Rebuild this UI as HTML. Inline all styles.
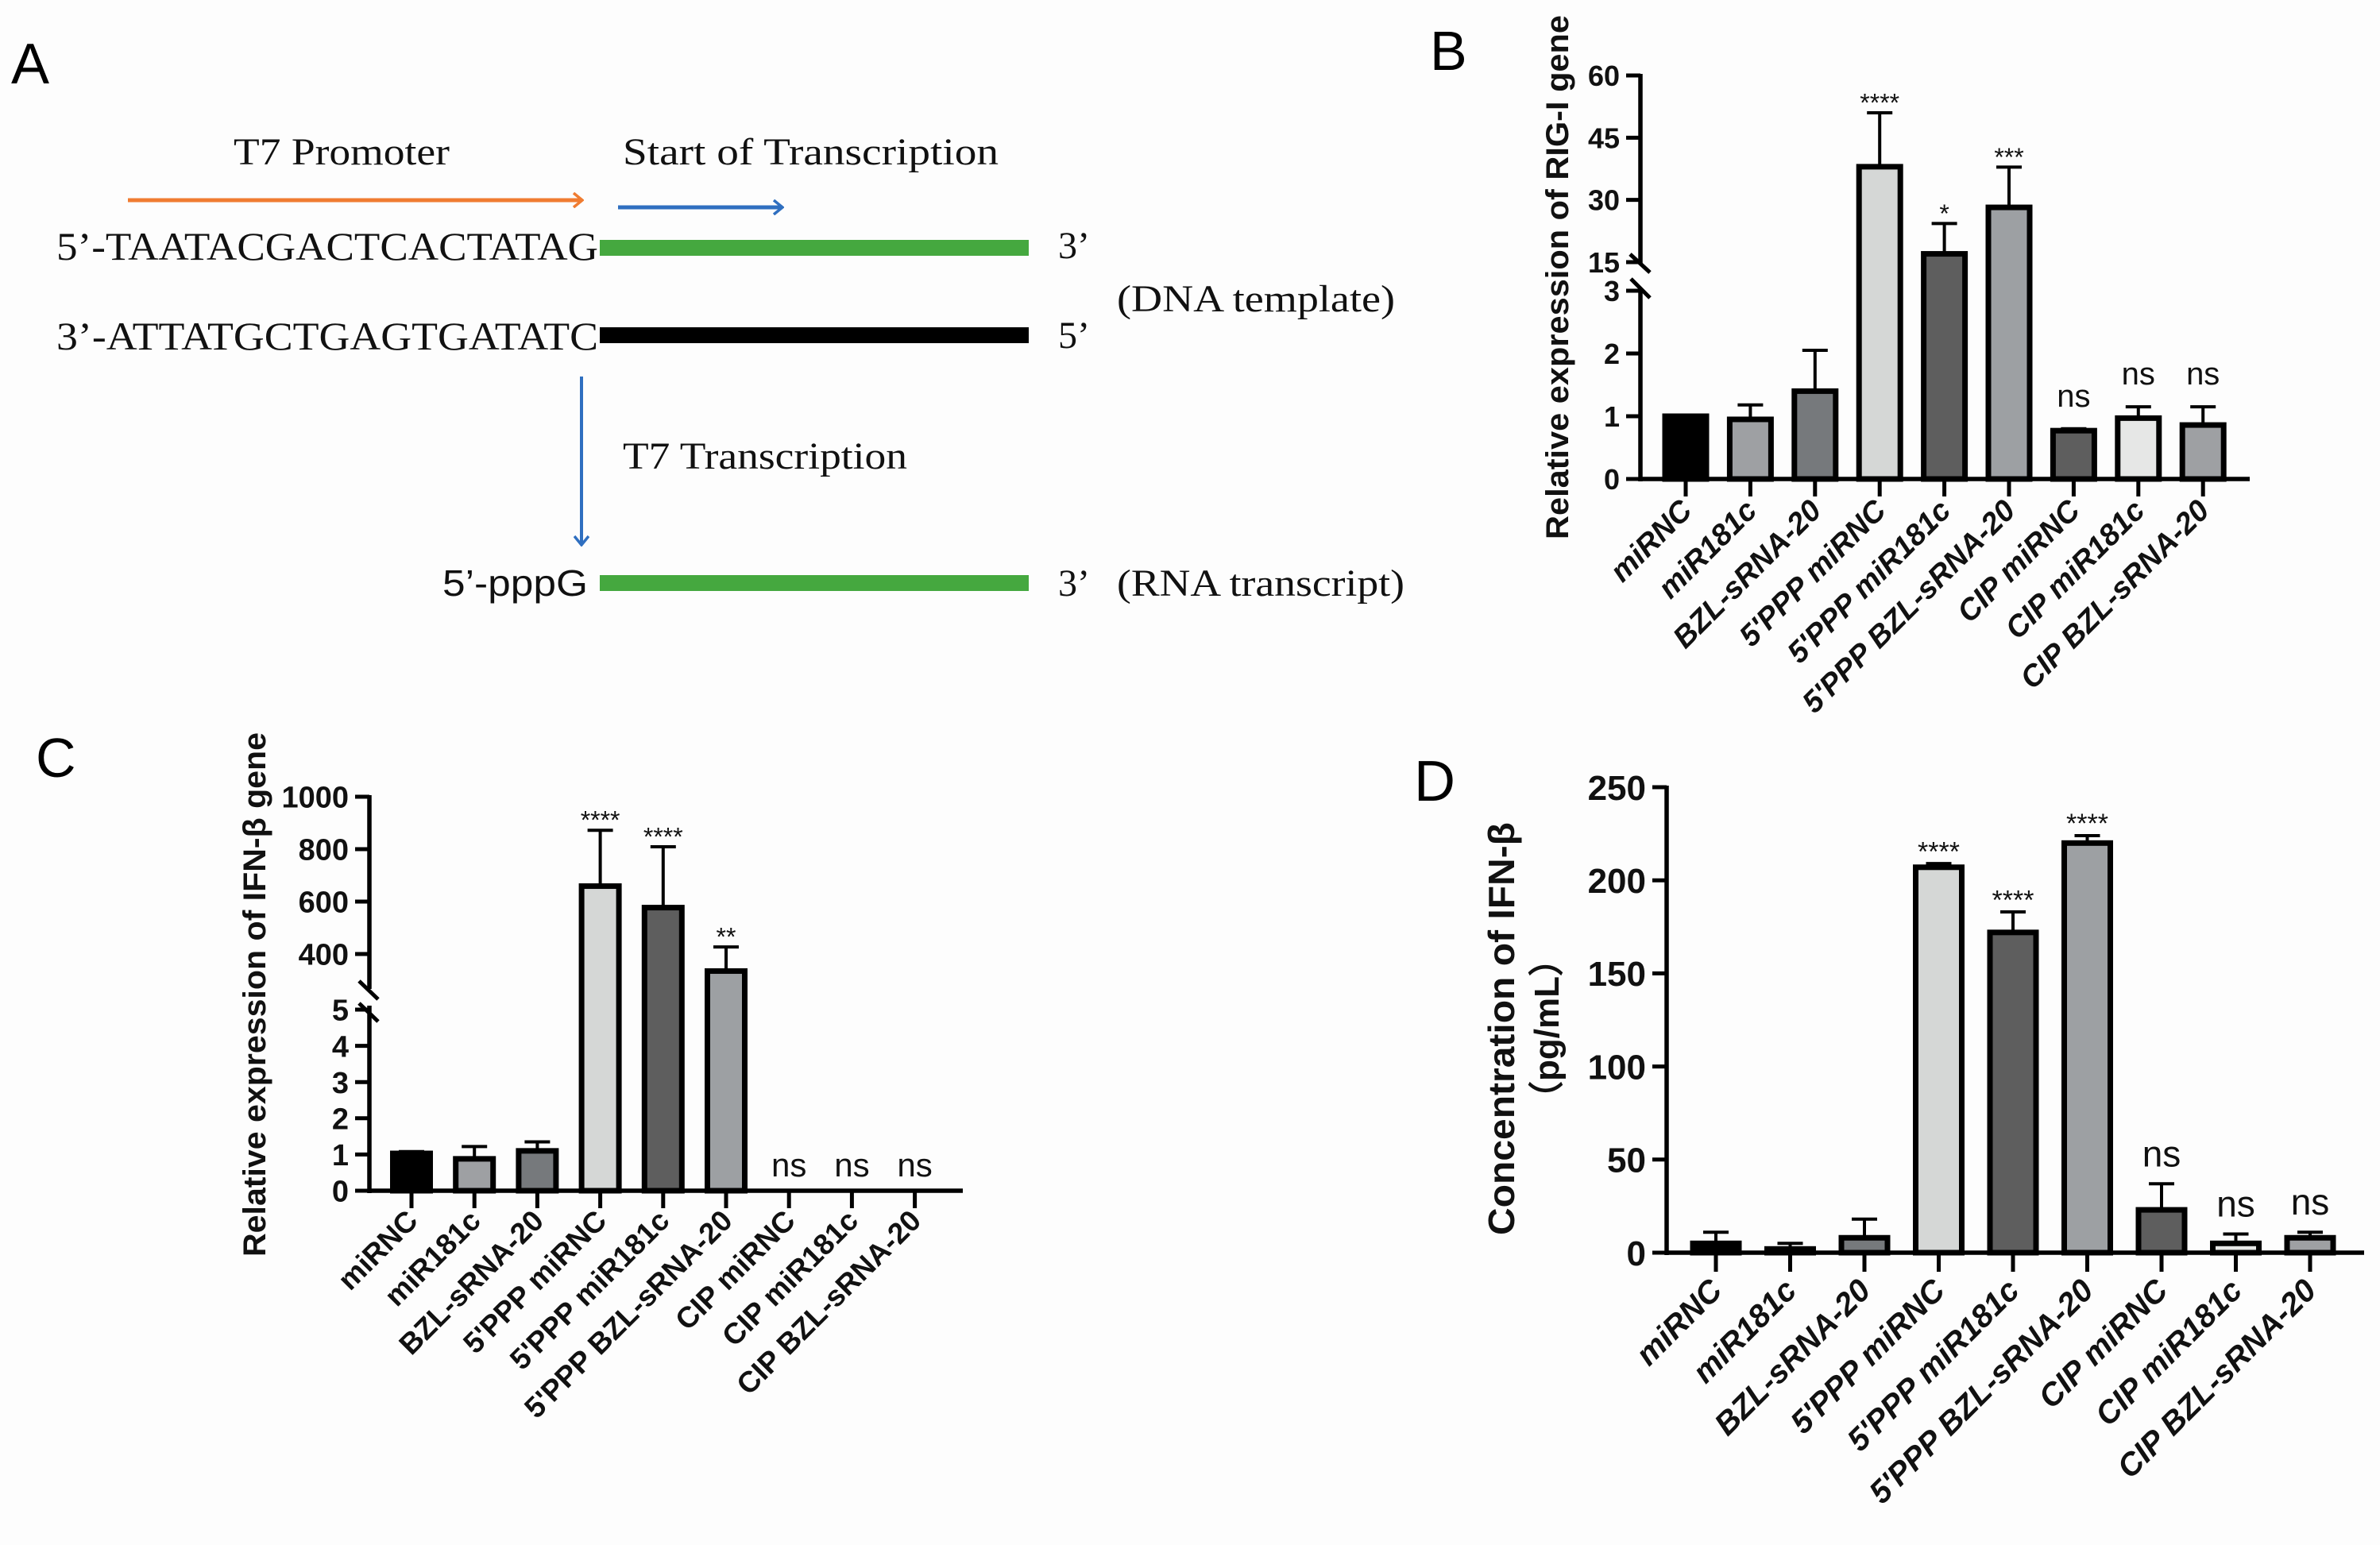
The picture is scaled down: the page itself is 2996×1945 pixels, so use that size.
<!DOCTYPE html>
<html><head><meta charset="utf-8"><style>
html,body{margin:0;padding:0;background:#fff;}
svg{display:block;}
.serif{font-family:"Liberation Serif",serif;fill:#111;}
.sans{font-family:"Liberation Sans",sans-serif;}
.tick{font-family:"Liberation Sans",sans-serif;font-weight:bold;fill:#111;}
</style></head><body>
<svg id="fig" width="2996" height="1945" viewBox="0 0 2996 1945" xmlns="http://www.w3.org/2000/svg">
<rect width="2996" height="1945" fill="#fdfdfd"/>
<defs>
<marker id="arrO" markerWidth="14" markerHeight="20" refX="12" refY="10" orient="auto" markerUnits="userSpaceOnUse"><path d="M1,1 L12,10 L1,19" fill="none" stroke="#f07c31" stroke-width="3.5"/></marker>
<marker id="arrB" markerWidth="14" markerHeight="20" refX="12" refY="10" orient="auto" markerUnits="userSpaceOnUse"><path d="M1,1 L12,10 L1,19" fill="none" stroke="#2f6fc0" stroke-width="3.5"/></marker>
</defs>
<g>
<text x="14" y="105" class="sans" font-size="72" fill="#000">A</text>
<text x="294" y="207" class="serif" font-size="48" textLength="272" lengthAdjust="spacingAndGlyphs">T7 Promoter</text>
<text x="784" y="207" class="serif" font-size="48" textLength="473" lengthAdjust="spacingAndGlyphs">Start of  Transcription</text>
<line x1="161" y1="252" x2="733" y2="252" stroke="#f07c31" stroke-width="5" marker-end="url(#arrO)"/>
<line x1="778" y1="261" x2="985" y2="261" stroke="#2f6fc0" stroke-width="5" marker-end="url(#arrB)"/>
<text x="71" y="327" class="serif" font-size="50" textLength="682" lengthAdjust="spacingAndGlyphs">5’-TAATACGACTCACTATAG</text>
<rect x="755" y="302" width="540" height="20" fill="#45a83f"/>
<text x="1332" y="325" class="serif" font-size="48">3’</text>
<text x="71" y="440" class="serif" font-size="50" textLength="682" lengthAdjust="spacingAndGlyphs">3’-ATTATGCTGAGTGATATC</text>
<rect x="755" y="412" width="540" height="20" fill="#000"/>
<text x="1332" y="438" class="serif" font-size="48">5’</text>
<text x="1406" y="392" class="serif" font-size="48" textLength="350" lengthAdjust="spacingAndGlyphs">(DNA template)</text>
<line x1="732" y1="474" x2="732" y2="686" stroke="#2f6fc0" stroke-width="4" marker-end="url(#arrB)"/>
<text x="784" y="590" class="serif" font-size="48" textLength="358" lengthAdjust="spacingAndGlyphs">T7 Transcription</text>
<text x="557" y="750" class="sans" font-size="46" fill="#111" textLength="183" lengthAdjust="spacingAndGlyphs">5’-pppG</text>
<rect x="755" y="724" width="540" height="20" fill="#45a83f"/>
<text x="1332" y="750" class="serif" font-size="48">3’</text>
<text x="1406" y="750" class="serif" font-size="48" textLength="362" lengthAdjust="spacingAndGlyphs">(RNA transcript)</text>
</g>
<text x="1800" y="88" class="sans" font-size="70" fill="#000">B</text>
<text x="45" y="978" class="sans" font-size="70" fill="#000">C</text>
<text x="1780" y="1008" class="sans" font-size="72" fill="#000">D</text>
<g id="chartB"></g>
<g id="chartC"></g>
<g id="chartD"></g>
</svg>
<script>
const categories = ["miRNC","miR181c","BZL-sRNA-20","5'PPP miRNC","5'PPP miR181c","5'PPP BZL-sRNA-20","CIP miRNC","CIP miR181c","CIP BZL-sRNA-20"];
const colors = ["#000000","#9ea0a3","#76797c","#d5d7d6","#5e5e5e","#9da0a3","#5e5e5e","#e6e7e6","#9ea0a3"];
const colorsC = ["#000000","#9ea0a3","#76797c","#d5d7d6","#5e5e5e","#9da0a3","#5e5e5e","#e6e7e6","#9ea0a3"];
const colorsD = ["#000000","#9ea0a3","#76797c","#d5d7d6","#5e5e5e","#9da0a3","#5e5e5e","#e6e7e6","#9ea0a3"];
const valuesB = [1, 0.95, 1.4, 38, 17, 28.2, 0.77, 0.97, 0.86];
const errorsB = [1, 1.18, 2.05, 51, 24.3, 37.9, 0.8, 1.15, 1.15];
const annotB = ["", "", "", "****", "*", "***", "ns", "ns", "ns"];
const ticksBLow = [0, 1, 2, 3];
const ticksBHigh = [15, 30, 45, 60];
const valuesC = [1.03, 0.88, 1.1, 659, 577, 335, 0, 0, 0];
const errorsC = [1.08, 1.22, 1.35, 872, 809, 427, 0, 0, 0];
const annotC = ["", "", "", "****", "****", "**", "ns", "ns", "ns"];
const ticksCLow = [0, 1, 2, 3, 4, 5];
const ticksCHigh = [400, 600, 800, 1000];
const valuesD = [5, 2, 8, 207, 172, 220, 23, 5, 8];
const errorsD = [11, 5, 18, 209, 183, 224, 37, 10, 11];
const annotD = ["", "", "", "****", "****", "****", "ns", "ns", "ns"];
const ticksD = [0, 50, 100, 150, 200, 250];

const NS = "http://www.w3.org/2000/svg";
function mk(parent, tag, attrs, text){
  const e = document.createElementNS(NS, tag);
  for (const k in attrs) e.setAttribute(k, attrs[k]);
  if (text !== undefined) e.textContent = text;
  parent.appendChild(e);
  return e;
}

function drawChart(cfg){
  const g = document.getElementById(cfg.id);
  const y = cfg.yScale;
  const x = i => cfg.x0 + i * cfg.step;
  cfg.values.forEach((v, i) => {
    if (v <= 0) return;
    const top = y(v), base = cfg.baseY;
    const r = mk(g, "rect", {x: x(i) - cfg.bw/2, y: top, width: cfg.bw, height: base - top, fill: cfg.colors[i], stroke: "#000", "stroke-width": 7});
    
    
    const ey = y(cfg.errors[i]);
    if (cfg.errors[i] > v) {
      const l = mk(g, "path", {d: `M${x(i)},${top} V${ey} M${x(i)-16},${ey} H${x(i)+16}`, stroke: "#000", "stroke-width": 4, fill: "none"});
      
      
    }
  });
  cfg.annot.forEach((a, i) => {
    if (!a) return;
    let yy;
    if (a === "ns") yy = cfg.nsFixed ? cfg.nsFixed : y(Math.max(cfg.errors[i], cfg.values[i])) - cfg.nsOff;
    else yy = y(cfg.errors[i]) - cfg.starOff;
    const t = mk(g, "text", {x: x(i), y: a === "ns" ? yy : yy + cfg.starSize*0.45, "text-anchor": "middle", "font-family": "Liberation Sans, sans-serif", "font-size": a === "ns" ? cfg.nsSize : cfg.starSize, fill: "#111"}, a);
    
    
  });
  const ax = mk(g, "line", {x1: cfg.axisX, y1: cfg.baseY, x2: cfg.axisEnd, y2: cfg.baseY, stroke: "#000", "stroke-width": 5.5});
  
  
  categories.forEach((c, i) => {
    const tk = mk(g, "line", {x1: x(i), y1: cfg.baseY, x2: x(i), y2: cfg.baseY + cfg.tickLen, stroke: "#000", "stroke-width": 5});
    
    
    const lx = x(i) + cfg.labDx, ly = cfg.baseY + cfg.labDy;
    const t = mk(g, "text", {x: lx, y: ly, "text-anchor": "end", class: "tick", "font-size": cfg.labSize, "font-style": cfg.italic ? "italic" : "normal", transform: `rotate(-45 ${lx} ${ly})`}, c);
    
    
  });
  cfg.ySegs.forEach(s => {
    const l = mk(g, "line", {x1: cfg.axisX, y1: s[0], x2: cfg.axisX, y2: s[1], stroke: "#000", "stroke-width": 5.5});
    
    
  });
  (cfg.slashes || []).forEach(s => {
    const l = mk(g, "line", {x1: s[0], y1: s[1], x2: s[2], y2: s[3], stroke: "#000", "stroke-width": 5});
    
    
  });
  cfg.ticks.forEach(v => {
    const yy = y(v);
    const l = mk(g, "line", {x1: cfg.axisX - 18, y1: yy, x2: cfg.axisX, y2: yy, stroke: "#000", "stroke-width": 5});
    
    
    const t = mk(g, "text", {x: cfg.axisX - 26, y: yy + cfg.tickSize*0.36, "text-anchor": "end", class: "tick", "font-size": cfg.tickSize}, String(v));
    
    
  });
  cfg.titles.forEach(tt => {
    const t = mk(g, "text", {x: tt.x, y: tt.y, "text-anchor": "middle", class: "tick", "font-size": tt.size, transform: `rotate(-90 ${tt.x} ${tt.y})`}, tt.text);
    if (tt.len) { t.setAttribute("textLength", tt.len); t.setAttribute("lengthAdjust", "spacingAndGlyphs"); }
    
    
  });
}

function yB(v){ return v <= 3 ? 603 - v * 79 : 330 - (v - 15) * (235/45); }
drawChart({id:"chartB", values: valuesB, errors: errorsB, annot: annotB, colors: colors, yScale: yB,
  x0: 2122, step: 81.4, bw: 52, baseY: 603, axisX: 2065, axisEnd: 2832, tickLen: 22,
  labDx: 10, labDy: 42, labSize: 38, italic: true,
  ticks: ticksBLow.concat(ticksBHigh), tickSize: 36,
  ySegs: [[93, 332], [364, 606]], slashes: [[2052,320,2077,343],[2053,351,2077,375]],
  starOff: 16, starSize: 32, nsOff: 28, nsSize: 40,
  titles: [{x: 1974, y: 349, text: "Relative expression of RIG-I gene", size: 40, len: 660}]});

function yC(v){ return v <= 5 ? 1499 - v * 45.6 : 1201 - (v - 400) * (198/600); }
drawChart({id:"chartC", values: valuesC, errors: errorsC, annot: annotC, colors: colorsC, yScale: yC,
  x0: 518, step: 79.2, bw: 47, baseY: 1499, axisX: 465, axisEnd: 1212, tickLen: 22,
  labDx: 10, labDy: 40, labSize: 37, italic: false,
  ticks: ticksCLow.concat(ticksCHigh), tickSize: 38,
  ySegs: [[1001, 1245], [1266, 1502]], slashes: [[452,1235,476,1258],[452,1263,476,1286]],
  starOff: 16, starSize: 32, nsFixed: 1481, nsSize: 42,
  titles: [{x: 334, y: 1252, text: "Relative expression of IFN-β gene", size: 40, len: 660}]});

function yD(v){ return 1577 - v * (586/250); }
drawChart({id:"chartD", values: valuesD, errors: errorsD, annot: annotD, colors: colorsD, yScale: yD,
  x0: 2160, step: 93.5, bw: 58, baseY: 1577, axisX: 2098, axisEnd: 2976, tickLen: 24,
  labDx: 10, labDy: 50, labSize: 40, italic: true,
  ticks: ticksD, tickSize: 44,
  ySegs: [[989, 1580]],
  starOff: 19, starSize: 34, nsOff: 22, nsSize: 46,
  titles: [{x: 1906, y: 1295, text: "Concentration of IFN-β", size: 46, len: 520},
           {x: 1962, y: 1295, text: "（pg/mL）", size: 44}]});
</script>
</body></html>
